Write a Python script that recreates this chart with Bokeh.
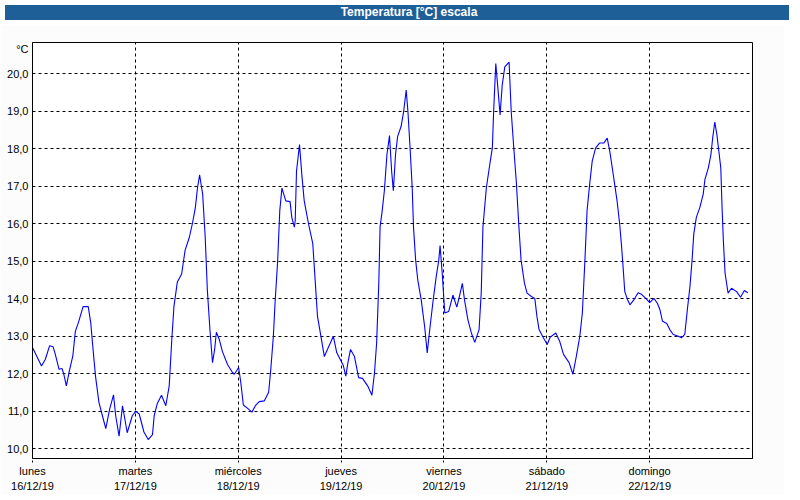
from bokeh.plotting import figure
from bokeh.layouts import column
from bokeh.models import Range1d, FixedTicker, LinearAxis, Div
from bokeh.embed import file_html
from bokeh.resources import INLINE

TITLE = "Temperatura [°C] escala"
UNIT = "°C"

# hours since lunes 16/12/19 00:00
hours = [0.0, 2.1, 3.0, 4.0, 4.8, 5.2, 6.2, 6.9, 7.3, 7.9, 8.6, 9.4, 10.0, 10.8, 11.8, 13.0,
         13.6, 14.2, 14.7, 15.5, 16.3, 17.1, 18.0, 18.9, 19.4, 20.2, 21.0, 21.4, 22.1, 23.3,
         24.1, 24.9, 26.0, 27.0, 28.0, 28.4, 29.1, 30.1, 31.1, 31.9, 32.5, 33.0, 33.8, 34.8,
         35.6, 36.6, 37.3, 38.0, 38.5, 39.0, 39.7, 40.3, 40.8, 41.4, 42.0, 42.5, 42.9, 43.6,
         44.3, 45.5, 46.7, 47.1, 48.1, 48.6, 49.2, 50.2, 51.2, 52.0, 52.9, 54.1, 55.1, 55.6,
         56.2, 56.6, 57.2, 57.7, 58.2, 59.1, 60.1, 60.5, 61.1, 61.3, 61.6, 62.3, 62.9, 63.4,
         64.4, 65.4, 66.0, 66.5, 67.3, 68.1, 69.1, 70.2, 71.0, 72.0, 72.5, 73.1, 73.6, 74.2,
         75.1, 76.1, 77.0, 78.2, 79.2, 79.8, 80.3, 80.8, 81.1, 81.6, 82.1, 82.7, 83.3, 83.8,
         84.2, 84.7, 85.2, 86.0, 86.6, 87.2, 87.6, 88.1, 88.6, 88.9, 89.4, 89.9, 90.7, 91.5,
         92.1, 92.6, 93.4, 94.2, 94.8, 95.1, 95.6, 95.9, 96.2, 97.1, 98.1, 99.0, 99.6, 100.3,
         100.8, 101.6, 102.4, 103.2, 104.2, 104.7, 105.1, 105.9, 106.7, 107.3, 107.6, 108.1,
         108.6, 109.1, 109.6, 110.2, 111.2, 111.7, 112.3, 112.9, 113.5, 114.0, 114.8, 115.4,
         116.4, 117.2, 117.7, 118.2, 119.1, 120.1, 120.8, 122.1, 123.0, 123.9, 125.2, 126.1,
         126.9, 127.7, 128.3, 128.9, 129.4, 130.0, 130.6, 131.4, 132.3, 133.3, 134.1, 134.7,
         135.5, 136.4, 137.0, 137.4, 137.8, 138.2, 138.8, 139.4, 140.3, 141.3, 142.1, 143.1,
         144.0, 145.0, 145.8, 146.4, 147.0, 148.0, 148.7, 149.5, 150.7, 151.4, 152.2, 152.8,
         153.4, 153.9, 154.3, 154.9, 155.7, 156.5, 156.9, 157.7, 158.3, 158.7, 159.2, 159.7,
         160.1, 160.6, 160.9, 161.2, 161.6, 162.3, 163.1, 164.3, 165.2, 166.1, 166.9]

temps = [12.70, 12.21, 12.39, 12.75, 12.72, 12.57, 12.12, 12.14, 11.99, 11.68, 12.08, 12.47, 13.13,
         13.40, 13.79, 13.79, 13.35, 12.56, 11.94, 11.24, 10.89, 10.54, 11.06, 11.44, 10.89, 10.34,
         11.15, 10.89, 10.43, 10.89, 11.00, 10.93, 10.45, 10.25, 10.38, 10.89, 11.20, 11.43, 11.15,
         11.68, 12.91, 13.79, 14.45, 14.66, 15.29, 15.64, 16.00, 16.43, 16.96, 17.30, 16.79, 15.64,
         14.23, 13.18, 12.30, 12.65, 13.11, 12.91, 12.60, 12.25, 12.03, 11.99, 12.17, 11.77, 11.17,
         11.08, 10.98, 11.15, 11.26, 11.28, 11.51, 12.12, 13.00, 13.90, 15.00, 16.35, 16.95, 16.61,
         16.59, 16.17, 15.91, 16.08, 17.40, 18.11, 17.23, 16.61, 16.00, 15.47, 14.41, 13.53, 13.00,
         12.46, 12.72, 13.00, 12.56, 12.34, 12.23, 11.94, 12.30, 12.65, 12.47, 11.90, 11.88, 11.68,
         11.43, 12.03, 12.83, 14.41, 15.91, 16.35, 16.88, 17.84, 18.35, 17.40, 16.88, 17.84, 18.33,
         18.59, 18.99, 19.56, 18.99, 18.02, 16.96, 15.91, 15.03, 14.50, 13.97, 13.26, 12.56, 13.09,
         13.88, 14.59, 15.03, 15.42, 14.68, 14.15, 13.62, 13.66, 14.10, 13.78, 14.06, 14.41, 13.97,
         13.44, 13.09, 12.84, 13.18, 14.15, 15.91, 16.96, 17.58, 18.02, 18.99, 20.27, 19.60, 18.90,
         19.69, 20.18, 20.31, 18.99, 18.02, 17.10, 15.91, 15.03, 14.41, 14.15, 14.06, 14.01, 13.53,
         13.18, 12.98, 12.78, 12.98, 13.09, 12.87, 12.52, 12.30, 11.99, 12.47, 13.00, 13.62, 15.03,
         16.35, 17.05, 17.67, 18.02, 18.15, 18.15, 18.28, 17.93, 17.32, 16.61, 16.00, 15.47, 14.85,
         14.19, 13.99, 13.84, 13.97, 14.16, 14.12, 14.01, 13.90, 14.01, 13.88, 13.71, 13.40, 13.34,
         13.18, 13.05, 13.00, 12.96, 13.05, 13.71, 14.32, 15.03, 15.73, 16.17, 16.43, 16.79, 17.18,
         17.49, 17.84, 18.28, 18.71, 18.37, 17.98, 17.49, 16.43, 15.55, 14.68, 14.15, 14.28, 14.19,
         14.04, 14.22, 14.16]

day_ticks = [0, 24, 48, 72, 96, 120, 144]
day_names = ["lunes", "martes", "miércoles", "jueves", "viernes", "sábado", "domingo"]
day_dates = ["16/12/19", "17/12/19", "18/12/19", "19/12/19", "20/12/19", "21/12/19", "22/12/19"]
y_ticks = [10, 11, 12, 13, 14, 15, 16, 17, 18, 19, 20]
Y_MIN, Y_MAX = 9.744, 20.83
UNIT_POS = 20.67

FONT = "Liberation Sans"
BAR = "#1f5f98"
W = 784
TITLE_H = 15

title_div = Div(text=TITLE, width=W, height=TITLE_H,
                styles={"background-color": BAR, "color": "white", "font-weight": "bold",
                        "font-family": FONT, "font-size": "12px", "text-align": "center",
                        "line-height": f"{TITLE_H}px", "padding-left": "24px",
                        "box-sizing": "border-box", "overflow": "hidden"})

p = figure(width=W, height=484 - TITLE_H, toolbar_location=None, output_backend="svg",
           x_range=Range1d(0, 168), y_range=Range1d(Y_MIN, Y_MAX),
           min_border_left=32, min_border_right=32, min_border_top=17, min_border_bottom=0)
p.background_fill_color = "white"
p.border_fill_color = "#fbfcfb"
p.outline_line_color = "black"
p.outline_line_width = 1

p.line(hours, temps, line_color="#0000ff", line_width=1.1)

# y axis (the unit is shown as a label near the top of the axis)
p.yaxis.ticker = FixedTicker(ticks=y_ticks + [UNIT_POS])
overrides = {t: f"{t:.1f}".replace(".", ",") for t in y_ticks}
overrides[UNIT_POS] = UNIT
p.yaxis.major_label_overrides = overrides
p.yaxis.minor_tick_line_color = None
p.yaxis.major_tick_out = 0
p.yaxis.major_tick_in = 0
p.yaxis.major_label_standoff = 4
p.yaxis.axis_line_color = "black"
p.yaxis.major_label_text_font = FONT
p.yaxis.major_label_text_font_size = "11px"
p.yaxis.major_label_text_color = "black"

# x axis: day names
p.xaxis.ticker = FixedTicker(ticks=day_ticks)
p.xaxis.major_label_overrides = {t: n for t, n in zip(day_ticks, day_names)}
p.xaxis.minor_tick_line_color = None
p.xaxis.major_tick_out = 4
p.xaxis.major_tick_in = 0
p.xaxis.major_tick_line_dash = "2 2"
p.xaxis.major_label_standoff = 2
p.xaxis.axis_line_color = "black"
p.xaxis.major_label_text_font = FONT
p.xaxis.major_label_text_font_size = "11px"
p.xaxis.major_label_text_color = "black"

# second x axis: dates
ax2 = LinearAxis(ticker=FixedTicker(ticks=day_ticks),
                 major_label_overrides={t: d for t, d in zip(day_ticks, day_dates)})
ax2.minor_tick_line_color = None
ax2.major_tick_line_color = None
ax2.major_tick_out = 0
ax2.major_tick_in = 0
ax2.axis_line_color = None
ax2.major_label_standoff = 0
ax2.major_label_text_font = FONT
ax2.major_label_text_font_size = "11px"
ax2.major_label_text_color = "black"
p.add_layout(ax2, "below")

# grids
p.xgrid.ticker = FixedTicker(ticks=day_ticks)
p.ygrid.ticker = FixedTicker(ticks=y_ticks)
for g in (p.xgrid, p.ygrid):
    g.grid_line_color = "black"
    g.grid_line_dash = "3 3"
    g.grid_line_width = 1

layout = column(title_div, p, spacing=0)
open("out.html", "w").write(file_html(layout, INLINE))
